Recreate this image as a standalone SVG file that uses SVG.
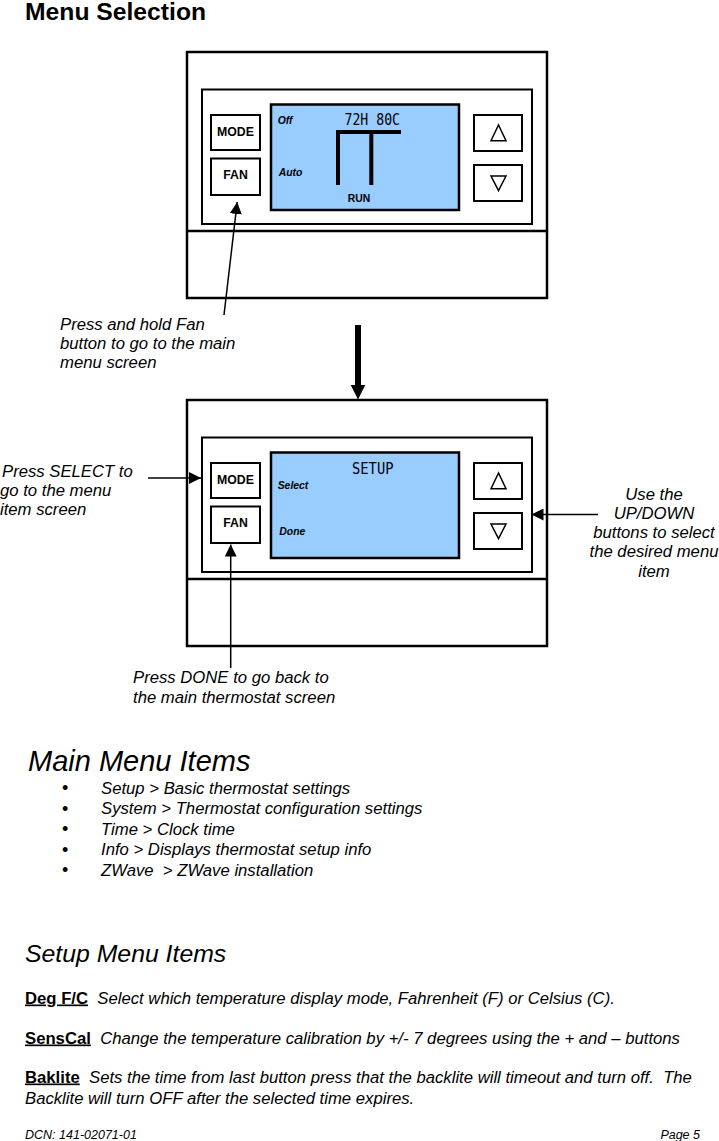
<svg xmlns="http://www.w3.org/2000/svg" width="719" height="1141" viewBox="0 0 719 1141">
<style>
.frame{fill:#fff;stroke:#000;stroke-width:2.5}
.panel{fill:#fff;stroke:#000;stroke-width:2}
.btn{fill:#fff;stroke:#000;stroke-width:2}
.screen{fill:#99CCFF;stroke:#000;stroke-width:2.5}
.tri{fill:#fff;stroke:#000;stroke-width:1.5;stroke-linejoin:miter}
.btnt{font-family:"Liberation Sans",Arial,sans-serif;font-weight:bold;font-size:12.3px;text-anchor:middle;fill:#000}
.lcd{font-family:"Liberation Sans",Arial,sans-serif;font-weight:bold;font-style:italic;font-size:10.4px;fill:#000}
.run{font-family:"Liberation Sans",Arial,sans-serif;font-weight:bold;font-size:10.4px;text-anchor:middle;fill:#000}
.seg{font-family:"DejaVu Sans Mono",monospace;font-size:15px;fill:#000}
.lbl{font-family:"Liberation Sans",Arial,sans-serif;font-style:italic;font-size:16.7px;fill:#000}
.body{font-family:"Liberation Sans",Arial,sans-serif;font-style:italic;font-size:16.7px;fill:#000}
.key{font-family:"Liberation Sans",Arial,sans-serif;font-weight:bold;font-style:normal;text-decoration:underline}
.conn{stroke:#000;stroke-width:1.5;fill:none}
</style>
<defs>
<marker id="ah" markerUnits="userSpaceOnUse" markerWidth="12" markerHeight="12" refX="12" refY="6" orient="auto" viewBox="0 0 12 12">
<path d="M0,0 L12,6 L0,12 z" fill="#000"/>
</marker>
</defs>

<text id="title" x="25" y="20" font-family="Liberation Sans, Arial, sans-serif" font-weight="bold" font-size="24.7">Menu Selection</text>

<g id="device-top">
<rect class="frame" x="187" y="52" width="360" height="246"/>
<line x1="187" y1="231" x2="547" y2="231" stroke="#000" stroke-width="2.5"/>
<rect class="panel" x="202" y="89.5" width="330" height="134.5"/>
<rect class="btn" x="211" y="115" width="49" height="35"/>
<text class="btnt" x="235.5" y="136">MODE</text>
<rect class="btn" x="211" y="158.5" width="49" height="36.5"/>
<text class="btnt" x="235.5" y="179.3">FAN</text>
<rect class="screen" x="271" y="104.5" width="188" height="105.5"/>
<text class="lcd" x="277.7" y="124">Off</text>
<text class="lcd" x="278.7" y="176">Auto</text>
<text class="run" x="359" y="201.7">RUN</text>
<text class="seg" x="344.5" y="125" textLength="55.5" lengthAdjust="spacingAndGlyphs">72H 80C</text>
<path d="M338,185 V132 M336,132 H401 M371.3,132 V185" stroke="#000" stroke-width="4" fill="none"/>
<rect class="btn" x="474" y="115" width="48" height="36"/>
<polygon class="tri" points="498.5,125 491,140.7 506,140.7"/>
<rect class="btn" x="474" y="165" width="48" height="36"/>
<polygon class="tri" points="491,176 506,176 498.5,190.7"/>
</g>

<g id="device-bottom">
<rect class="frame" x="187" y="400" width="360" height="246"/>
<line x1="187" y1="579" x2="547" y2="579" stroke="#000" stroke-width="2.5"/>
<rect class="panel" x="202" y="437.5" width="330" height="134.5"/>
<rect class="btn" x="211" y="463" width="49" height="35"/>
<text class="btnt" x="235.5" y="484">MODE</text>
<rect class="btn" x="211" y="506.5" width="49" height="36.5"/>
<text class="btnt" x="235.5" y="527.3">FAN</text>
<rect class="screen" x="271" y="452.5" width="188" height="105.5"/>
<text class="seg" x="352" y="474" font-size="16" textLength="41.5" lengthAdjust="spacingAndGlyphs">SETUP</text>
<text class="lcd" x="277.7" y="488.7">Select</text>
<text class="lcd" x="279.3" y="534.7">Done</text>
<rect class="btn" x="474" y="463" width="48" height="36"/>
<polygon class="tri" points="498.5,473 491,488.7 506,488.7"/>
<rect class="btn" x="474" y="513" width="48" height="36"/>
<polygon class="tri" points="491,524 506,524 498.5,538.7"/>
</g>

<g id="connectors">
<line class="conn" x1="224" y1="315" x2="237.2" y2="202" marker-end="url(#ah)"/>
<rect x="355" y="325" width="6" height="61" fill="#000"/>
<polygon points="350.7,385 365.3,385 358,399.5" fill="#000"/>
<line class="conn" x1="148" y1="478" x2="201" y2="478" marker-end="url(#ah)"/>
<line class="conn" x1="598" y1="514.5" x2="531.5" y2="514.5" marker-end="url(#ah)"/>
<line class="conn" x1="230.7" y1="668" x2="230.7" y2="544.5" marker-end="url(#ah)"/>
</g>

<g id="label-fan">
<text class="lbl" x="60" y="329.5">Press and hold Fan</text>
<text class="lbl" x="60" y="348.5">button to go to the main</text>
<text class="lbl" x="60" y="368">menu screen</text>
</g>
<g id="label-select">
<text class="lbl" x="2" y="476.5">Press SELECT to</text>
<text class="lbl" x="0" y="495.5">go to the menu</text>
<text class="lbl" x="0" y="514.5">item screen</text>
</g>
<g id="label-updown" text-anchor="middle">
<text class="lbl" x="654" y="500">Use the</text>
<text class="lbl" x="654" y="519">UP/DOWN</text>
<text class="lbl" x="654" y="538">buttons to select</text>
<text class="lbl" x="654" y="557">the desired menu</text>
<text class="lbl" x="654" y="576.5">item</text>
</g>
<g id="label-done">
<text class="lbl" x="133" y="683">Press DONE to go back to</text>
<text class="lbl" x="133" y="702.5">the main thermostat screen</text>
</g>

<g id="main-menu">
<text x="28" y="771" font-family="Liberation Sans, Arial, sans-serif" font-style="italic" font-size="29">Main Menu Items</text>
<g font-family="Liberation Sans, Arial, sans-serif" font-size="18">
<text x="62" y="794">•</text>
<text x="62" y="814.5">•</text>
<text x="62" y="835">•</text>
<text x="62" y="855.5">•</text>
<text x="62" y="876">•</text>
</g>
<text class="body" x="101" y="793.5">Setup &gt; Basic thermostat settings</text>
<text class="body" x="101" y="814">System &gt; Thermostat configuration settings</text>
<text class="body" x="101" y="834.5">Time &gt; Clock time</text>
<text class="body" x="101" y="855">Info &gt; Displays thermostat setup info</text>
<text class="body" x="101" y="875.5" xml:space="preserve">ZWave  &gt; ZWave installation</text>
</g>

<g id="setup-menu">
<text x="25" y="962" font-family="Liberation Sans, Arial, sans-serif" font-style="italic" font-size="24.8">Setup Menu Items</text>
<text class="body" x="25" y="1003.5" xml:space="preserve"><tspan class="key">Deg F/C</tspan>  Select which temperature display mode, Fahrenheit (F) or Celsius (C).</text>
<text class="body" x="25" y="1043.5" xml:space="preserve"><tspan class="key">SensCal</tspan>  Change the temperature calibration by +/- 7 degrees using the + and – buttons</text>
<text class="body" x="25" y="1082.5" xml:space="preserve"><tspan class="key">Baklite</tspan>  Sets the time from last button press that the backlite will timeout and turn off.  The</text>
<text class="body" x="25" y="1103.5">Backlite will turn OFF after the selected time expires.</text>
</g>

<g id="footer" font-family="Liberation Sans, Arial, sans-serif" font-style="italic" font-size="12.5">
<text x="25" y="1138.5">DCN: 141-02071-01</text>
<text x="700" y="1138.5" text-anchor="end">Page 5</text>
</g>
</svg>
